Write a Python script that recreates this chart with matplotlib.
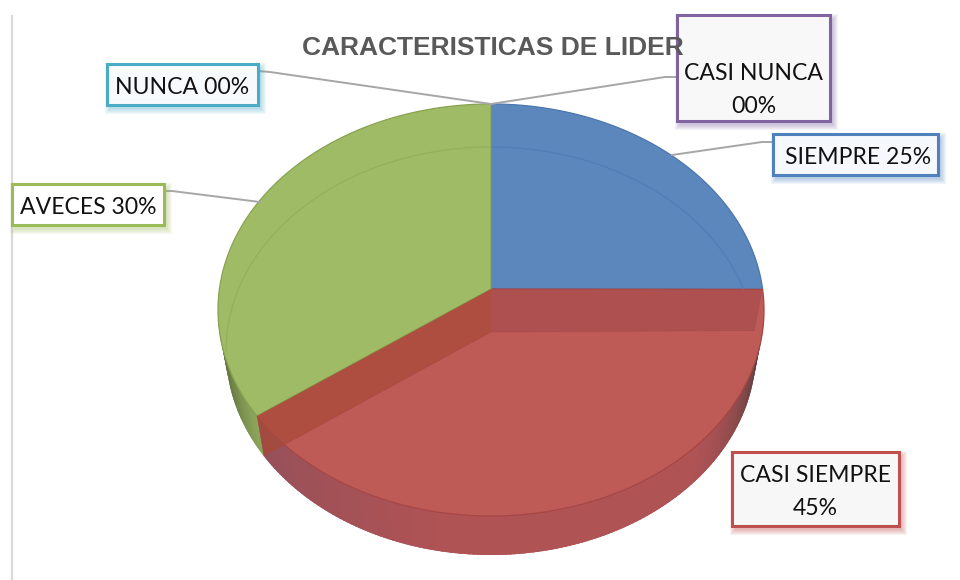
import matplotlib
matplotlib.use("Agg")
import matplotlib.pyplot as plt
import numpy as np
from matplotlib.collections import PolyCollection
from matplotlib.colors import to_rgb
from matplotlib.patches import Rectangle

title = "CARACTERISTICAS DE LIDER"
categories = ["SIEMPRE", "CASI SIEMPRE", "AVECES"]
label_values = [25, 45, 30]
drawn_shares = [23.4, 43.0, 33.6]
slice_colors = ["#5B87BD", "#BE5B57", "#9FBB66"]
edge_colors = ["#4A77AE", "#A64645", "#87A350"]

callout_texts = ["NUNCA 00%", "CASI NUNCA\n00%", "SIEMPRE 25%", "AVECES 30%", "CASI SIEMPRE\n45%"]
callout_boxes = [(107, 64, 151, 41), (677, 15, 153, 106), (773, 134, 165, 41),
                 (12, 184, 152, 41), (732, 452, 167, 74)]
callout_colors = ["#4BACC6", "#8064A2", "#4F81BD", "#9BBB59", "#C0504D"]
callout_fill = ["#F7FAFC", "#F8F8F9", "#F5F8FC", "#FFFFFF", "#F8F7F7"]
text_offsets = [3, 22, 3, 3, 3]
text_shift_x = [0, 0, 3, 0, 0]
leaders = [([258, 270, 491], [71, 72, 104]), ([677, 665, 491], [77, 77, 104]),
           ([773, 762, 672], [142, 142, 155]), ([164, 172, 260], [191, 191, 202])]

CX = 491
TOP = dict(cy=310, rx=273, ry=206, apex=289)
BOT = dict(cy=351, rx=265, ry=204, apex=332)


def ellipsePoints(e, phiDeg):
    phi = np.radians(phiDeg)
    return CX + e["rx"] * np.cos(phi), e["cy"] - e["ry"] * np.sin(phi)


def mix(c1, c2, t):
    a, b = np.array(to_rgb(c1)), np.array(to_rgb(c2))
    return tuple(a + (b - a) * t)


def sideColor(phi):
    #* side wall goes dark towards both silhouette ends
    if phi < boundaries[2]:
        return mix("#3F4A2B", "#8FA75C", np.clip((phi - 180) / 31, 0, 1) ** 0.8)
    if phi > 320:
        return mix("#AD5254", "#453A3A", np.clip((phi - 320) / 38, 0, 1) ** 1.3)
    return mix("#96505A", "#B05354", np.clip((phi - boundaries[2]) / 50, 0, 1))


#* slice borders as ellipse angle, clockwise from the top
boundaries = [90.0]
for share in drawn_shares:
    boundaries.append(boundaries[-1] - share * 3.6)
boundaries = [b % 360 for b in boundaries]

fig = plt.figure(figsize=(9.6, 5.8), dpi=100)
ax = fig.add_axes([0, 0, 1, 1])
ax.set_xlim(0, 960)
ax.set_ylim(580, 0)
ax.axis("off")

ax.plot([11.5, 11.5], [16, 580], color="#D9D9D9", lw=1.6, zorder=1)

#* Side wall, quads overlap a little so no seams show
phis = np.linspace(180, 360, 181)
quads, quadColors = [], []
for p0, p1 in zip(phis[:-1], phis[1:]):
    tx, ty = ellipsePoints(TOP, np.array([p0, p1 + 1.5]))
    bx, by = ellipsePoints(BOT, np.array([p1 + 1.5, p0]))
    quads.append(np.column_stack([np.r_[tx, bx], np.r_[ty, by]]))
    quadColors.append(sideColor((p0 + p1) / 2))
ax.add_collection(PolyCollection(quads, facecolors=quadColors, edgecolors="none", zorder=2))

#* Top faces
spans = [(boundaries[1], 90.0), (boundaries[2] - 360, boundaries[1]), (90.0, boundaries[2])]
for (start, end), face, edge in zip(spans, slice_colors, edge_colors):
    x, y = ellipsePoints(TOP, np.linspace(start, end, 200))
    ax.fill(np.r_[CX, x], np.r_[TOP["apex"], y], facecolor=face, edgecolor=edge, lw=0.9, zorder=3)

#* Inner walls seen through the glassy slices
for phi, col in [(boundaries[1], "#A84B4E"), (boundaries[2], "#A84A38")]:
    tx, ty = ellipsePoints(TOP, phi)
    bx, by = ellipsePoints(BOT, phi)
    ax.fill([CX, tx, bx, CX], [TOP["apex"], ty, by, BOT["apex"]], facecolor=col, alpha=0.72,
            edgecolor="none", zorder=4)
    ax.plot([CX, bx], [BOT["apex"], by], color="#A64645", lw=0.5, alpha=0.7, zorder=4)

#* Faint back rim of the bottom ellipse, it stops where the blue slice stops
rimStart = np.degrees(np.arcsin((BOT["cy"] - TOP["apex"]) / BOT["ry"]))
for start, end, col in [(rimStart, 90, "#4F7DB5"), (90, 180, "#93B05A")]:
    x, y = ellipsePoints(BOT, np.linspace(start, end, 100))
    ax.plot(x, y, color=col, lw=0.9, zorder=4)

#* Leader lines
for lx, ly in leaders:
    ax.plot(lx, ly, color="#A6A6A6", lw=1.4, zorder=5, solid_joinstyle="round")

#* Callouts
for i, (text, box, col, fill) in enumerate(zip(callout_texts, callout_boxes, callout_colors, callout_fill)):
    bx, by, bw, bh = box
    for grow in range(6, 0, -1):
        ax.add_patch(Rectangle((bx + 3 - grow + 1, by + 4 - grow + 1), bw + 2 * grow - 2, bh + 2 * grow - 2,
                               facecolor=col, alpha=0.075, edgecolor="none", zorder=6))
    ax.add_patch(Rectangle((bx, by), bw, bh, facecolor=fill, edgecolor=col, lw=2.2, zorder=7))
    ax.text(bx + bw / 2 + text_shift_x[i], by + bh / 2 + text_offsets[i], text, ha="center", va="center",
            family="Lato", fontsize=16.6, color="#111111", linespacing=1.72, zorder=8)

ax.text(493, 48, title, ha="center", va="center", family="Liberation Sans", fontweight="bold",
        fontsize=19, color="#595959", zorder=9)

fig.savefig("out.png", dpi=100, facecolor="white")
